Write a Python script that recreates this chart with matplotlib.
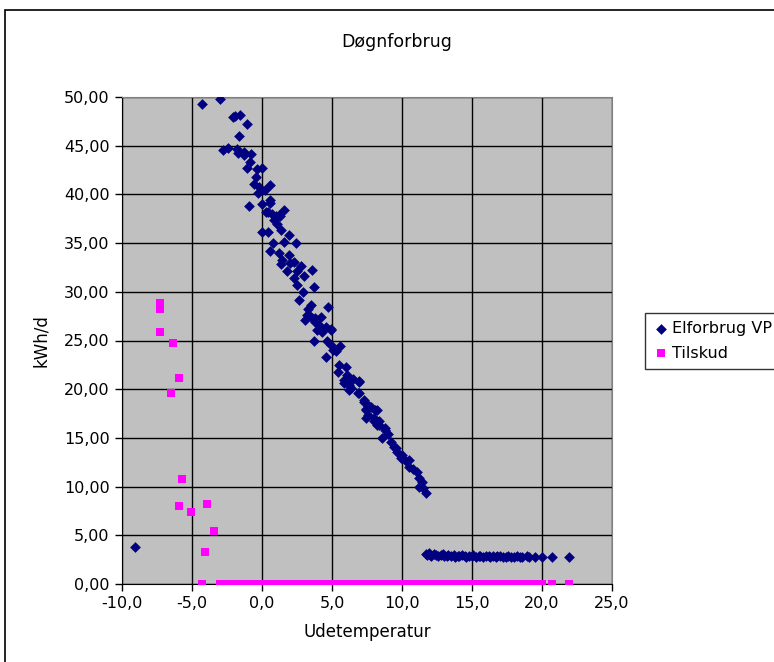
import matplotlib
matplotlib.use('Agg')
import matplotlib.pyplot as plt
from matplotlib.patches import Rectangle
from matplotlib.ticker import FuncFormatter, MultipleLocator

plt.rcParams['font.family'] = ['DejaVu Sans']

# elforbrug, heating season (temperature, kWh/d)
elforbrug_heating = [
    (-9.1, 3.8),
    (-4.3, 49.3), (-3.0, 49.8), (-2.05, 47.9), (-1.9, 48.0), (-1.57, 48.2), (-1.1, 47.2),
    (-1.64, 46.0), (-2.76, 44.6), (-2.4, 44.8), (-1.76, 44.7), (-1.7, 44.3), (-1.3, 44.4),
    (-1.3, 44.0), (-0.8, 44.1), (-0.86, 43.3), (-1.05, 42.7), (-0.33, 42.6), (0.0, 42.7),
    (-0.45, 41.8), (-0.6, 41.1), (0.6, 41.0), (0.2, 40.5), (-0.3, 40.1), (-0.93, 38.8),
    (0.0, 39.0), (0.57, 39.4), (0.4, 38.2), (1.6, 38.4), (1.0, 37.8), (1.3, 37.8),
    (0.55, 39.1), (0.26, 38.2), (0.7, 38.0), (1.2, 37.9), (0.86, 37.4), (1.1, 37.0),
    (1.33, 36.3), (0.0, 36.1), (0.45, 36.1), (1.93, 35.8), (1.57, 35.1), (0.79, 35.0),
    (2.4, 35.0), (0.55, 34.2), (1.2, 34.0), (1.93, 33.8), (1.45, 33.3), (2.3, 33.1),
    (1.33, 32.9), (2.76, 32.7), (3.55, 32.2), (1.8, 32.1), (2.5, 32.1), (2.3, 31.4),
    (3.0, 31.6), (2.5, 30.7), (3.7, 30.5), (2.9, 30.0), (2.64, 29.2), (3.48, 28.6),
    (4.7, 28.4), (3.36, 27.6), (3.8, 27.3), (3.1, 27.1), (4.1, 26.6), (4.55, 26.4),
    (4.9, 26.2), (3.2, 27.6), (3.6, 27.3), (3.8, 26.9), (4.2, 27.4), (3.95, 26.1),
    (4.3, 25.9), (4.9, 26.1), (3.7, 25.0), (4.66, 24.9), (4.9, 24.5), (5.6, 24.4),
    (4.55, 23.3), (5.26, 23.9), (5.5, 22.5), (6.0, 22.3), (5.4, 21.8), (6.1, 21.5),
    (5.86, 20.9), (6.9, 20.8), (6.33, 20.1), (6.2, 20.4), (6.86, 19.6), (7.3, 18.9),
    (7.64, 18.3), (7.4, 17.9), (8.1, 17.9), (7.6, 17.4), (8.0, 17.0), (8.36, 16.7),
    (8.24, 16.3), (8.8, 16.0), (5.86, 20.6), (6.93, 20.7), (6.2, 19.9), (6.93, 19.6),
    (7.3, 18.7), (7.76, 18.2), (8.24, 17.9), (7.4, 18.0), (7.4, 17.0), (8.0, 16.7),
    (8.36, 16.3), (8.8, 15.8), (8.6, 15.0), (9.2, 14.6), (9.43, 14.1), (9.67, 13.6),
    (9.9, 12.9), (10.26, 12.6), (10.5, 12.0), (11.1, 11.5), (11.45, 10.5), (11.2, 10.0),
    (11.7, 9.3), (10.5, 12.7), (11.2, 10.9),
    (9.0, 15.4), (9.6, 14.0), (10.0, 13.2), (10.8, 11.8), (11.5, 9.9), (6.5, 21.0),
    (5.1, 24.0), (2.0, 33.0), (-0.2, 40.8), (3.3, 28.2),
]

# elforbrug, summer (hot water only)
elforbrug_summer = [
    (11.7, 3.1), (11.8, 3.0), (11.9, 3.2), (12.0, 3.0), (12.1, 2.9), (12.3, 3.1),
    (12.4, 3.0), (12.6, 2.9), (12.8, 3.0), (12.9, 3.1), (13.0, 2.9), (13.2, 2.9),
    (13.3, 3.0), (13.5, 2.9), (13.7, 3.0), (13.8, 2.8), (14.0, 2.9), (14.1, 2.9),
    (14.3, 3.0), (14.5, 2.9), (14.6, 2.8), (14.8, 2.9), (15.0, 2.9), (15.1, 3.0),
    (15.3, 2.8), (15.5, 2.9), (15.6, 2.9), (15.8, 2.8), (16.0, 2.9), (16.2, 2.9),
    (16.3, 2.8), (16.5, 2.9), (16.7, 2.8), (16.8, 2.9), (17.0, 2.9), (17.2, 2.8),
    (17.4, 2.8), (17.6, 2.9), (17.8, 2.8), (18.0, 2.8), (18.2, 2.9), (18.4, 2.8),
    (18.6, 2.8), (18.9, 2.9), (19.1, 2.8), (19.5, 2.8), (20.0, 2.8), (20.7, 2.8),
    (21.9, 2.8),
]

# tilskud (supplementary heat) on the coldest days
tilskud_points = [
    (-7.3, 28.9), (-7.3, 28.2), (-7.3, 25.9), (-6.36, 24.7), (-5.93, 21.1), (-6.48, 19.6),
    (-5.74, 10.8), (-5.93, 8.0), (-5.1, 7.4), (-3.9, 8.2), (-3.43, 5.4), (-4.07, 3.3),
]

el_x = [p[0] for p in elforbrug_heating + elforbrug_summer]
el_y = [p[1] for p in elforbrug_heating + elforbrug_summer]
# all other days have zero tilskud
zero_x = [t for t in el_x if t > -5]
til_x = [p[0] for p in tilskud_points] + zero_x
til_y = [p[1] for p in tilskud_points] + [0.0] * len(zero_x)

W, H = 774, 662
fig = plt.figure(figsize=(W / 100, H / 100), dpi=100)
ax = fig.add_axes([122 / W, 1 - 584 / H, (612 - 122) / W, (584 - 97) / H])
ax.set_facecolor('#C0C0C0')

ax.scatter(til_x, til_y, marker='s', s=40, color='#FF00FF', linewidths=0, zorder=3, label='Tilskud')
ax.scatter(el_x, el_y, marker='D', s=30, color='#000080', linewidths=0, zorder=4, label='Elforbrug VP')

ax.set_xlim(-10, 25)
ax.set_ylim(0, 50)
ax.xaxis.set_major_locator(MultipleLocator(5))
ax.yaxis.set_major_locator(MultipleLocator(5))
ax.xaxis.set_major_formatter(FuncFormatter(lambda v, p: f'{v:.1f}'.replace('.', ',')))
ax.yaxis.set_major_formatter(FuncFormatter(lambda v, p: f'{v:.2f}'.replace('.', ',')))
ax.grid(True, color='black', linewidth=1.0, zorder=1)
ax.set_axisbelow(True)
ax.tick_params(labelsize=11.5, length=5, width=1, color='black', pad=4)
for s in ['top', 'right']:
    ax.spines[s].set_color('#808080')
for s in ['left', 'bottom']:
    ax.spines[s].set_color('black')

ax.set_xlabel('Udetemperatur', fontsize=12, labelpad=8)
ax.set_ylabel('kWh/d', fontsize=12, labelpad=10)
fig.text(397 / W, 1 - 42 / H, 'Døgnforbrug', fontsize=12.5, ha='center', va='center')

h, l = ax.get_legend_handles_labels()
leg = fig.legend(h[::-1], l[::-1], loc='upper left', bbox_to_anchor=(645 / W, 1 - 313 / H),
                 fontsize=11.5, frameon=True, fancybox=False, edgecolor='black',
                 handletextpad=0.2, handlelength=1.0, borderpad=0.5, labelspacing=0.6,
                 scatterpoints=1, borderaxespad=0)
leg.get_frame().set_linewidth(1.0)

# chart border
fig.patches.append(Rectangle((5 / W, -0.05), 1.0, 1 - 10 / H + 0.05, transform=fig.transFigure,
                             fill=False, edgecolor='black', linewidth=1.2))

fig.savefig('out.png', dpi=100)
